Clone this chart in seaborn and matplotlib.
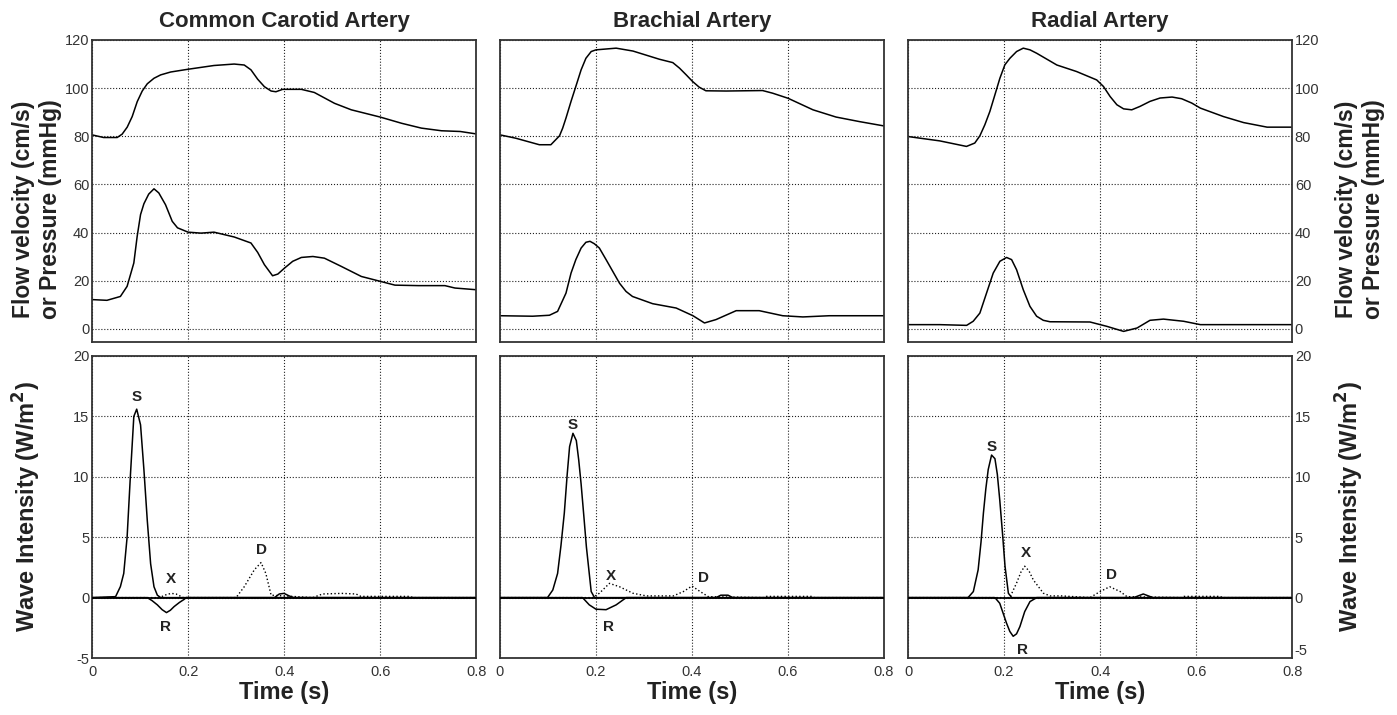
import seaborn as sns
import matplotlib.pyplot as plt

# ---- Common carotid artery ----
car_t_p = [0, 0.024, 0.0523, 0.0627, 0.0732, 0.0836, 0.0941, 0.1045, 0.115,
           0.129, 0.1429, 0.1638, 0.1986, 0.254, 0.296, 0.317, 0.331, 0.345,
           0.359, 0.373, 0.383, 0.397, 0.436, 0.463, 0.505, 0.54, 0.6, 0.645,
           0.686, 0.728, 0.767, 0.8]
car_p = [80.6, 79.5, 79.5, 80.9, 83.8, 88.2, 94.4, 98.8, 101.8,
         104.1, 105.5, 106.7, 107.8, 109.4, 110, 109.6, 107.6, 103.7,
         100.6, 98.8, 98.5, 99.5, 99.5, 98.2, 93.7, 91, 88, 85.4,
         83.4, 82.3, 82, 81]
car_t_v = [0, 0.031, 0.059, 0.073, 0.087, 0.094, 0.101, 0.108, 0.118, 0.129,
           0.139, 0.153, 0.167, 0.178, 0.2, 0.227, 0.254, 0.296, 0.331, 0.345,
           0.359, 0.376, 0.387, 0.401, 0.418, 0.436, 0.46, 0.484, 0.519, 0.561,
           0.6, 0.631, 0.68, 0.735, 0.756, 0.8]
car_v = [12.2, 11.9, 13.5, 17.7, 27.4, 38.5, 47.5, 52, 56, 58.2,
         56.5, 51.6, 44.7, 42, 40.2, 39.8, 40.2, 38.2, 35.7, 31.8,
         26.7, 22.1, 22.8, 25.3, 28.1, 29.7, 30.1, 29.4, 26, 21.8,
         19.8, 18.2, 18, 18, 17, 16.3]
car_t_s = [0, 0.049, 0.059, 0.066, 0.073, 0.080, 0.087, 0.093, 0.101, 0.108,
           0.115, 0.122, 0.129, 0.136, 0.143, 0.38, 0.39, 0.4, 0.41, 0.42, 0.8]
car_s = [0, 0.08, 0.91, 2.0, 5.0, 10.2, 15.0, 15.6, 14.3, 10.6,
         6.4, 2.8, 0.9, 0.2, 0, 0, 0.3, 0.35, 0.15, 0, 0]
car_t_r = [0, 0.115, 0.125, 0.136, 0.146, 0.155, 0.163, 0.171, 0.182, 0.192,
           0.196, 0.8]
car_r = [0, 0, -0.25, -0.6, -1.0, -1.24, -1.05, -0.74, -0.4, -0.14, 0, 0]
car_t_d = [0, 0.14, 0.155, 0.165, 0.175, 0.19, 0.3, 0.317, 0.338, 0.352,
           0.362, 0.373, 0.46, 0.48, 0.52, 0.55, 0.56, 0.66, 0.67, 0.8]
car_d = [0, 0, 0.25, 0.35, 0.3, 0, 0, 0.9, 2.3, 2.9,
         2.0, 0.2, 0, 0.3, 0.35, 0.3, 0.1, 0.1, 0, 0]

# ---- Brachial artery ----
bra_t_p = [0, 0.033, 0.082, 0.106, 0.124, 0.1306, 0.1375, 0.148, 0.158, 0.169,
           0.179, 0.19, 0.2, 0.242, 0.277, 0.332, 0.36, 0.374, 0.388, 0.401,
           0.415, 0.429, 0.471, 0.547, 0.568, 0.6, 0.652, 0.7, 0.749, 0.8]
bra_p = [80.6, 79.2, 76.5, 76.5, 80.2, 83.4, 87.6, 94.5, 100.7, 107.6,
         112.4, 115.2, 115.9, 116.6, 115.4, 112, 110.6, 108.3, 105.5, 102.8,
         100.4, 98.9, 98.8, 99, 97.9, 95.8, 91, 88, 86.1, 84.3]
bra_t_v = [0, 0.068, 0.103, 0.12, 0.1375, 0.148, 0.158, 0.169, 0.179, 0.1875,
           0.1965, 0.207, 0.221, 0.235, 0.249, 0.2625, 0.276, 0.318, 0.367,
           0.402, 0.426, 0.45, 0.492, 0.54, 0.589, 0.631, 0.686, 0.8]
bra_v = [5.5, 5.3, 5.7, 7.3, 14.9, 23.2, 28.8, 33.6, 36.0, 36.4,
         35.4, 33.6, 28.8, 23.9, 19.0, 15.6, 13.5, 10.5, 8.7,
         5.5, 2.5, 3.9, 7.6, 7.6, 5.5, 5, 5.5, 5.5]
bra_t_s = [0, 0.099, 0.11, 0.12, 0.127, 0.134, 0.14, 0.145, 0.152, 0.159,
           0.164, 0.169, 0.175, 0.18, 0.19, 0.197, 0.45, 0.46, 0.475, 0.485,
           0.8]
bra_s = [0, 0, 0.63, 2, 4.3, 7, 10.2, 12.5, 13.6, 13,
         11.4, 9.4, 6.6, 4.2, 0.5, 0, 0, 0.2, 0.2, 0,
         0]
bra_t_r = [0, 0.172, 0.186, 0.2, 0.221, 0.242, 0.263, 0.8]
bra_r = [0, 0, -0.6, -0.96, -1.0, -0.6, 0, 0]
bra_t_d = [0, 0.193, 0.207, 0.228, 0.249, 0.277, 0.305, 0.361, 0.382, 0.4,
           0.417, 0.434, 0.55, 0.555, 0.65, 0.655, 0.8]
bra_d = [0, 0, 0.36, 1.18, 0.9, 0.36, 0.14, 0.14, 0.5, 0.96,
         0.5, 0.08, 0, 0.1, 0.1, 0, 0]

# ---- Radial artery ----
rad_t_p = [0, 0.066, 0.1217, 0.139, 0.1496, 0.16, 0.1704, 0.1809, 0.1913,
           0.2017, 0.2122, 0.2261, 0.24, 0.254, 0.2678, 0.31, 0.351, 0.393,
           0.407, 0.421, 0.435, 0.449, 0.466, 0.483, 0.504, 0.525, 0.55, 0.57,
           0.591, 0.609, 0.657, 0.699, 0.748, 0.8]
rad_p = [79.9, 78.1, 75.8, 77.2, 80.2, 84.8, 90.3, 97.2, 104.1,
         109.7, 112.4, 115.2, 116.6, 115.9, 114.5, 109.6, 106.9, 103.4,
         100.7, 96.5, 93.1, 91.4, 91, 92.4, 94.5, 95.9, 96.3, 95.6,
         93.8, 91.7, 88.2, 85.7, 83.8, 83.8]
rad_t_v = [0, 0.066, 0.122, 0.1357, 0.1496, 0.1635, 0.1774, 0.1913, 0.2052,
           0.2157, 0.2261, 0.24, 0.2539, 0.2678, 0.2817, 0.2957, 0.379, 0.414,
           0.449, 0.477, 0.504, 0.532, 0.574, 0.609, 0.748, 0.8]
rad_v = [1.8, 1.8, 1.5, 3.2, 6.6, 14.9, 23.2, 28.1, 29.7,
         28.8, 24.6, 16.3, 9.4, 5.3, 3.6, 3.0, 2.9, 1.1,
         -1, 0.4, 3.6, 4.1, 3.2, 1.8, 1.8, 1.8]
rad_t_s = [0, 0.125, 0.136, 0.146, 0.152, 0.157, 0.162, 0.167, 0.174, 0.181,
           0.186, 0.191, 0.197, 0.202, 0.209, 0.216, 0.47, 0.49, 0.51, 0.8]
rad_s = [0, 0, 0.5, 2.3, 4.6, 7, 9.0, 10.6, 11.8, 11.5,
         10.2, 8.1, 5.2, 2.6, 0.36, 0, 0, 0.3, 0, 0]
rad_t_r = [0, 0.181, 0.191, 0.205, 0.212, 0.219, 0.226, 0.233, 0.243, 0.254,
           0.268, 0.8]
rad_r = [0, 0, -0.47, -2.1, -2.8, -3.2, -3.0, -2.4, -1.16, -0.33, 0, 0]
rad_t_d = [0, 0.212, 0.226, 0.235, 0.243, 0.252, 0.261, 0.282, 0.296, 0.32,
           0.379, 0.4, 0.42, 0.442, 0.456, 0.57, 0.575, 0.65, 0.655, 0.8]
rad_d = [0, 0, 1.2, 2.1, 2.6, 2.2, 1.46, 0.36, 0.14, 0.14,
         0, 0.5, 0.9, 0.5, 0.08, 0, 0.1, 0.1, 0, 0]

titles = ["Common Carotid Artery", "Brachial Artery", "Radial Artery"]
wave_names = ["S", "X", "D", "R"]
car_lab = [(0.093, 16.6), (0.165, 1.5), (0.352, 3.9), (0.153, -2.4)]
bra_lab = [(0.151, 14.3), (0.232, 1.8), (0.424, 1.6), (0.226, -2.45)]
rad_lab = [(0.175, 12.5), (0.245, 3.7), (0.424, 1.9), (0.238, -4.3)]

time_ticks = [0, 0.2, 0.4, 0.6, 0.8]
time_labels = ["0", "0.2", "0.4", "0.6", "0.8"]
top_ticks = [0, 20, 40, 60, 80, 100, 120]
bot_ticks = [-5, 0, 5, 10, 15, 20]


def style_axes(ax, yticks, ylim):
    ax.set_xlim(0, 0.8)
    ax.set_ylim(*ylim)
    ax.set_xticks(time_ticks)
    ax.set_yticks(yticks)
    ax.grid(True, linestyle=':', color='#222222', linewidth=0.8)
    ax.tick_params(length=0, labelsize=10.5, colors='#333333', pad=2)
    ax.tick_params(axis='x', pad=5)
    for sp in ax.spines.values():
        sp.set_color('#333333')
        sp.set_linewidth(1.3)
    ax.set_xlabel('')
    ax.set_ylabel('')


def draw_column(col, x0, pres, vel, fwd, bwd, dot, labels):
    w = 0.2749
    ax_top = fig.add_axes([x0, 0.5217, w, 0.4224])
    ax_bot = fig.add_axes([x0, 0.0797, w, 0.4224])

    sns.lineplot(x=pres[0], y=pres[1], ax=ax_top, color='black', linewidth=1.1)
    sns.lineplot(x=vel[0], y=vel[1], ax=ax_top, color='black', linewidth=1.1)
    style_axes(ax_top, top_ticks, (-5.4, 120))
    ax_top.set_xticklabels([])
    ax_top.set_title(titles[col], fontsize=16, fontweight='bold', pad=9)

    ax_bot.axhline(0, color='black', linewidth=1.3, zorder=3)
    sns.lineplot(x=fwd[0], y=fwd[1], ax=ax_bot, color='black', linewidth=1.1)
    sns.lineplot(x=bwd[0], y=bwd[1], ax=ax_bot, color='black', linewidth=1.1)
    sns.lineplot(x=dot[0], y=dot[1], ax=ax_bot, color='black', linewidth=1.0,
                 linestyle=':')
    style_axes(ax_bot, bot_ticks, (-5, 20))
    ax_bot.set_xticklabels(time_labels)
    for name, (tx, ty) in zip(wave_names, labels):
        ax_bot.text(tx, ty, name, ha='center', va='center', fontsize=11,
                    fontweight='bold', color='#222222')

    if col == 1:
        ax_top.set_yticklabels([])
        ax_bot.set_yticklabels([])
    elif col == 2:
        ax_top.yaxis.tick_right()
        ax_bot.yaxis.tick_right()
        ax_top.tick_params(length=0)
        ax_bot.tick_params(length=0)
        ax_bot.set_yticklabels([str(v) for v in bot_ticks])
        ax_bot.get_yticklabels()[0].set_va('bottom')

    fig.text(x0 + w / 2, 0.031, "Time (s)", ha='center', va='center',
             fontsize=17, fontweight='bold', color='#222222')


sns.set_style("white")
plt.rcParams['font.family'] = ['Liberation Sans', 'DejaVu Sans']
plt.rcParams['axes.unicode_minus'] = False

fig = plt.figure(figsize=(13.97, 7.15), dpi=100)

draw_column(0, 0.0659, (car_t_p, car_p), (car_t_v, car_v), (car_t_s, car_s),
            (car_t_r, car_r), (car_t_d, car_d), car_lab)
draw_column(1, 0.3579, (bra_t_p, bra_p), (bra_t_v, bra_v), (bra_t_s, bra_s),
            (bra_t_r, bra_r), (bra_t_d, bra_d), bra_lab)
draw_column(2, 0.6500, (rad_t_p, rad_p), (rad_t_v, rad_v), (rad_t_s, rad_s),
            (rad_t_r, rad_r), (rad_t_d, rad_d), rad_lab)

flow_label = "Flow velocity (cm/s)\nor Pressure (mmHg)"
wave_label = "Wave Intensity (W/m$^\\mathbf{2}$)"
for xpos in [0.0265, 0.9735]:
    fig.text(xpos, 0.707, flow_label, rotation=90, ha='center', va='center',
             fontsize=16.5, fontweight='bold', linespacing=1.2,
             color='#222222')
for xpos in [0.019, 0.966]:
    fig.text(xpos, 0.292, wave_label, rotation=90, ha='center', va='center',
             fontsize=17, fontweight='bold', color='#222222')

plt.savefig('out.png', dpi=100)
